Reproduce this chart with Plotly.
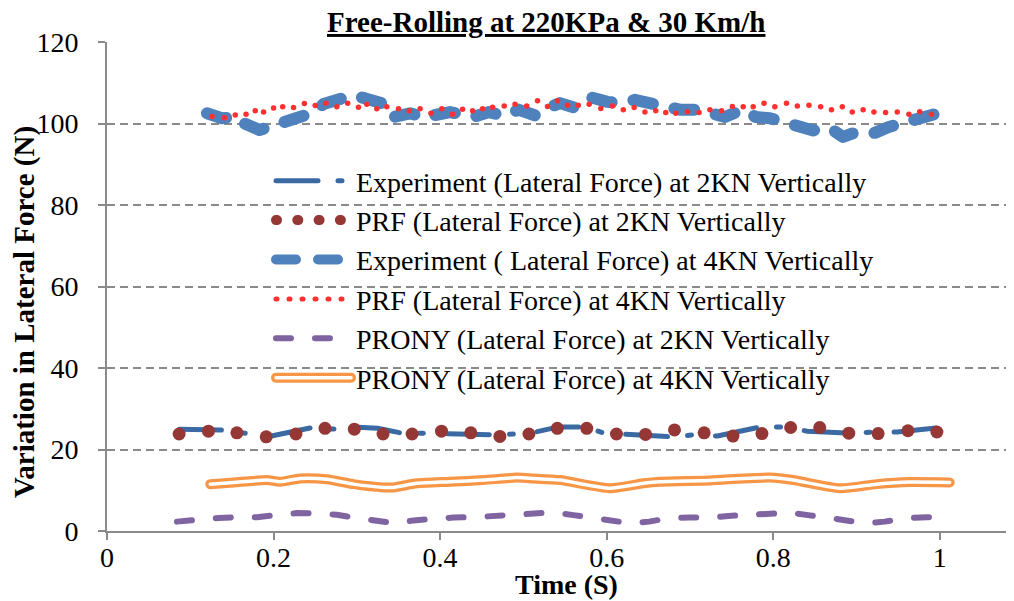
import plotly.graph_objects as go

# ---------------- data ----------------
exp2_t = [0.087, 0.136, 0.166, 0.192, 0.244, 0.273, 0.297, 0.325, 0.352, 0.380, 0.401, 0.464,
          0.490, 0.508, 0.541, 0.575, 0.597, 0.625, 0.680, 0.704, 0.733, 0.784, 0.812, 0.841,
          0.896, 0.922, 0.949, 0.997]
exp2_v = [25.0, 24.8, 24.0, 23.1, 25.3, 25.0, 25.5, 25.2, 24.1, 24.0, 23.8, 23.6,
          23.8, 24.0, 25.5, 25.5, 24.0, 23.8, 23.1, 23.6, 23.3, 25.5, 25.5, 24.5,
          24.0, 24.3, 24.3, 25.3]

prf2_t = [0.0866, 0.1218, 0.1560, 0.1912, 0.2269, 0.2618, 0.2970, 0.3315, 0.3664, 0.4017,
          0.4369, 0.4718, 0.5067, 0.5408, 0.5761, 0.6118, 0.6467, 0.6815, 0.7171, 0.7517,
          0.7865, 0.8210, 0.8559, 0.8908, 0.9260, 0.9618, 0.9966]
prf2_v = [23.8, 24.5, 24.1, 23.1, 23.8, 25.2, 25.0, 23.8, 23.8, 24.5,
          24.1, 23.2, 23.8, 25.2, 25.2, 23.8, 23.7, 24.8, 24.1, 23.3,
          23.9, 25.4, 25.4, 24.0, 23.9, 24.6, 24.3]

exp4_t = [0.120, 0.138, 0.158, 0.164, 0.183, 0.202, 0.212, 0.250, 0.260, 0.296, 0.304, 0.338,
          0.344, 0.364, 0.385, 0.392, 0.412, 0.434, 0.440, 0.459, 0.478, 0.494, 0.514, 0.534,
          0.544, 0.563, 0.583, 0.601, 0.617, 0.634, 0.652, 0.670, 0.688, 0.709, 0.725, 0.742,
          0.763, 0.779, 0.796, 0.812, 0.830, 0.848, 0.868, 0.884, 0.900, 0.922, 0.938, 0.955,
          0.973, 0.988, 1.003]
exp4_v = [102.5, 101.3, 101.6, 100.1, 98.4, 99.6, 100.9, 102.8, 104.8, 107.0, 106.5, 104.5,
          101.6, 102.5, 101.3, 102.0, 102.8, 102.0, 101.6, 102.8, 101.8, 103.4, 102.0, 104.2,
          105.0, 103.8, 106.3, 105.3, 105.0, 105.8, 105.0, 104.0, 103.4, 103.4, 102.7, 101.6,
          103.4, 101.6, 101.3, 100.2, 99.0, 98.3, 98.9, 96.7, 97.9, 97.7, 99.1, 100.1,
          100.9, 102.0, 102.8]

prf4_t = [0.126, 0.141, 0.154, 0.167, 0.178, 0.188, 0.200, 0.211, 0.224, 0.237, 0.250, 0.263,
          0.276, 0.289, 0.302, 0.312, 0.324, 0.336, 0.350, 0.363, 0.376, 0.389, 0.402, 0.415,
          0.427, 0.439, 0.451, 0.463, 0.477, 0.490, 0.504, 0.517, 0.529, 0.541, 0.553, 0.566,
          0.579, 0.593, 0.607, 0.620, 0.633, 0.646, 0.659, 0.671, 0.683, 0.697, 0.711, 0.724,
          0.738, 0.751, 0.764, 0.776, 0.789, 0.802, 0.816, 0.829, 0.843, 0.857, 0.870, 0.883,
          0.895, 0.908, 0.921, 0.935, 0.949, 0.963, 0.976, 0.990]
prf4_v = [101.7, 101.4, 102.1, 102.3, 103.1, 102.8, 103.8, 104.1, 103.9, 104.9, 104.4, 105.0,
          104.1, 105.0, 104.0, 104.7, 103.6, 104.1, 103.6, 103.1, 103.6, 102.5, 103.6, 102.3,
          103.5, 103.1, 103.6, 104.0, 104.3, 104.7, 104.3, 105.6, 104.2, 105.6, 104.5, 104.5,
          104.7, 103.7, 104.3, 103.4, 103.9, 102.8, 103.1, 102.7, 102.5, 102.9, 102.7, 103.4,
          103.1, 104.2, 104.1, 104.1, 105.0, 104.1, 105.0, 104.3, 104.5, 104.1, 103.4, 104.1,
          102.8, 103.4, 102.8, 102.7, 102.8, 102.3, 102.9, 102.3]

prony2_t = [0.084, 0.110, 0.134, 0.160, 0.180, 0.204, 0.228, 0.253, 0.276, 0.300, 0.322, 0.346,
            0.368, 0.394, 0.416, 0.442, 0.464, 0.488, 0.512, 0.536, 0.560, 0.584, 0.604, 0.628,
            0.651, 0.676, 0.700, 0.727, 0.746, 0.772, 0.794, 0.820, 0.842, 0.867, 0.886, 0.912,
            0.934, 0.961, 0.985, 1.009]
prony2_v = [2.3, 2.9, 3.2, 3.4, 3.4, 3.9, 4.4, 4.3, 4.0, 3.2, 2.6, 1.9,
            2.6, 3.1, 3.3, 3.4, 3.7, 3.9, 4.4, 4.6, 3.9, 3.1, 2.6, 1.9,
            2.3, 3.2, 3.3, 3.3, 3.7, 3.9, 4.4, 4.5, 3.9, 3.1, 2.5, 1.9,
            2.3, 3.2, 3.4, 3.4]

prony4_t = [0.124, 0.152, 0.192, 0.208, 0.232, 0.264, 0.296, 0.332, 0.344, 0.372, 0.412, 0.452,
            0.492, 0.512, 0.544, 0.604, 0.644, 0.664, 0.724, 0.764, 0.796, 0.824, 0.880, 0.924,
            0.964, 1.012]
prony4_v = [11.5, 11.9, 12.5, 12.1, 12.9, 12.7, 11.5, 10.7, 10.7, 11.7, 12.1, 12.5,
            13.1, 12.9, 12.5, 10.5, 11.7, 12.1, 12.4, 12.9, 13.1, 12.5, 10.5, 11.5,
            12.0, 11.9]

names = [
    "Experiment (Lateral Force) at 2KN Vertically",
    "PRF (Lateral Force) at 2KN Vertically",
    "Experiment ( Lateral Force) at 4KN Vertically",
    "PRF (Lateral Force) at 4KN Vertically",
    "PRONY (Lateral Force) at 2KN Vertically",
    "PRONY (Lateral Force) at 4KN Vertically",
]
x_ticks = [0, 0.2, 0.4, 0.6, 0.8, 1]
x_tick_text = ["0", "0.2", "0.4", "0.6", "0.8", "1"]
y_ticks = [0, 20, 40, 60, 80, 100, 120]

# ---------------- layout geometry ----------------
W, H = 1014, 601
ML, MR, MT, MB = 107, 8, 42, 70
PL, PR, PT, PB = ML, W - MR, MT, H - MB


def px(x):
    return (x - PL) / (PR - PL)


def py(y):
    return (PB - y) / (PB - PT)


FONT = "Liberation Serif"
GRID = "#8a8a8a"

C_EXP2 = "#3A69A3"
C_PRF2 = "#953735"
C_EXP4 = "#4F81BD"
C_PRF4 = "#FF3030"
C_PR2 = "#8064A2"
C_PR4 = "#F79646"

fig = go.Figure()

# Experiment 2KN
fig.add_trace(go.Scatter(x=exp2_t, y=exp2_v, mode="lines", name=names[0], legendrank=1,
                         line=dict(color=C_EXP2, width=5, dash="42px,20px,4px,24px")))
# PRF 2KN (big round dots)
fig.add_trace(go.Scatter(x=prf2_t, y=prf2_v, mode="markers", name=names[1], showlegend=False,
                         marker=dict(color=C_PRF2, size=13, line=dict(width=0))))
fig.add_trace(go.Scatter(x=[None], y=[None], mode="lines", name=names[1], legendrank=2,
                         line=dict(color=C_PRF2, width=10, dash="1px,20.3px")))
# Experiment 4KN
fig.add_trace(go.Scatter(x=exp4_t, y=exp4_v, mode="lines", name=names[2], legendrank=3,
                         line=dict(color=C_EXP4, width=12, dash="20px,22px")))
# PRF 4KN (small round dots)
fig.add_trace(go.Scatter(x=prf4_t, y=prf4_v, mode="markers", name=names[3], showlegend=False,
                         marker=dict(color=C_PRF4, size=5.5, line=dict(width=0))))
fig.add_trace(go.Scatter(x=[None], y=[None], mode="lines", name=names[3], legendrank=4,
                         line=dict(color=C_PRF4, width=5, dash="1px,12px")))
# PRONY 2KN
fig.add_trace(go.Scatter(x=prony2_t, y=prony2_v, mode="lines", name=names[4], legendrank=5,
                         line=dict(color=C_PR2, width=6, dash="15px,24px")))
# PRONY 4KN (double line)
fig.add_trace(go.Scatter(x=prony4_t, y=prony4_v, mode="lines", name=names[5], legendrank=6,
                         line=dict(color=C_PR4, width=10, shape="spline", smoothing=0.6)))
fig.add_trace(go.Scatter(x=prony4_t, y=prony4_v, mode="lines", showlegend=False, hoverinfo="skip",
                         line=dict(color="#ffffff", width=3.5, shape="spline", smoothing=0.6)))

fig.update_layout(
    width=W, height=H,
    margin=dict(l=ML, r=MR, t=MT, b=MB, pad=0),
    paper_bgcolor="white", plot_bgcolor="white",
    font=dict(family=FONT, size=28, color="black"),
    showlegend=True,
    legend=dict(x=px(271), y=py(156), xanchor="left", yanchor="top",
                bgcolor="rgba(0,0,0,0)", itemwidth=75, tracegroupgap=0,
                font=dict(family=FONT, size=28, color="black")),
    xaxis=dict(range=[0, (PR - 106.7) / 833.0], tickvals=x_ticks, ticktext=x_tick_text,
               showline=True, linecolor=GRID, linewidth=2, ticks="outside", ticklen=7,
               tickwidth=2, tickcolor=GRID, showgrid=False, zeroline=False,
               ticklabelstandoff=-7, tickfont=dict(family=FONT, size=28, color="black")),
    yaxis=dict(range=[0, 120], tickvals=y_ticks, showline=True, linecolor=GRID, linewidth=2,
               ticks="outside", ticklen=7, tickwidth=2, tickcolor=GRID,
               showgrid=True, gridcolor=GRID, gridwidth=1.5, griddash="8px,5px",
               zeroline=False, ticklabelstandoff=14,
               tickfont=dict(family=FONT, size=28, color="black")),
    annotations=[
        dict(text="<u><b>Free-Rolling at 220KPa &amp; 30 Km/h</b></u>", xref="paper", yref="paper",
             x=px(546), y=py(22), xanchor="center", yanchor="middle", showarrow=False,
             font=dict(family=FONT, size=29, color="black")),
        dict(text="<b>Time (S)</b>", xref="paper", yref="paper", x=px(566), y=py(584),
             xanchor="center", yanchor="middle", showarrow=False,
             font=dict(family=FONT, size=28, color="black")),
        dict(text="<b>Variation in Lateral Force (N)</b>", xref="paper", yref="paper",
             x=px(25), y=py(312), xanchor="center", yanchor="middle", textangle=-90,
             showarrow=False, font=dict(family=FONT, size=29, color="black")),
    ],
)

post = """
var gd = document.getElementById('{plot_id}');
function rc(){
  gd.querySelectorAll('path.js-line').forEach(function(p){
    p.style.strokeLinecap = 'round'; p.style.strokeLinejoin = 'round';
  });
  gd.querySelectorAll('.legend .traces').forEach(function(it){
    var t = it.querySelector('.legendtext');
    if (t && t.textContent.indexOf('PRONY') >= 0 && t.textContent.indexOf('4KN') >= 0) {
      if (!it.querySelector('.inner-white')) {
        var p = it.querySelector('path.js-line');
        if (p) {
          var c = p.cloneNode(true);
          c.setAttribute('class', 'inner-white');
          c.style.stroke = '#ffffff'; c.style.strokeWidth = '3.5px';
          c.style.strokeLinecap = 'round';
          p.parentNode.appendChild(c);
        }
      }
    }
  });
}
rc();
gd.on('plotly_afterplot', rc);
"""

fig.write_html("out.html", post_script=post)
